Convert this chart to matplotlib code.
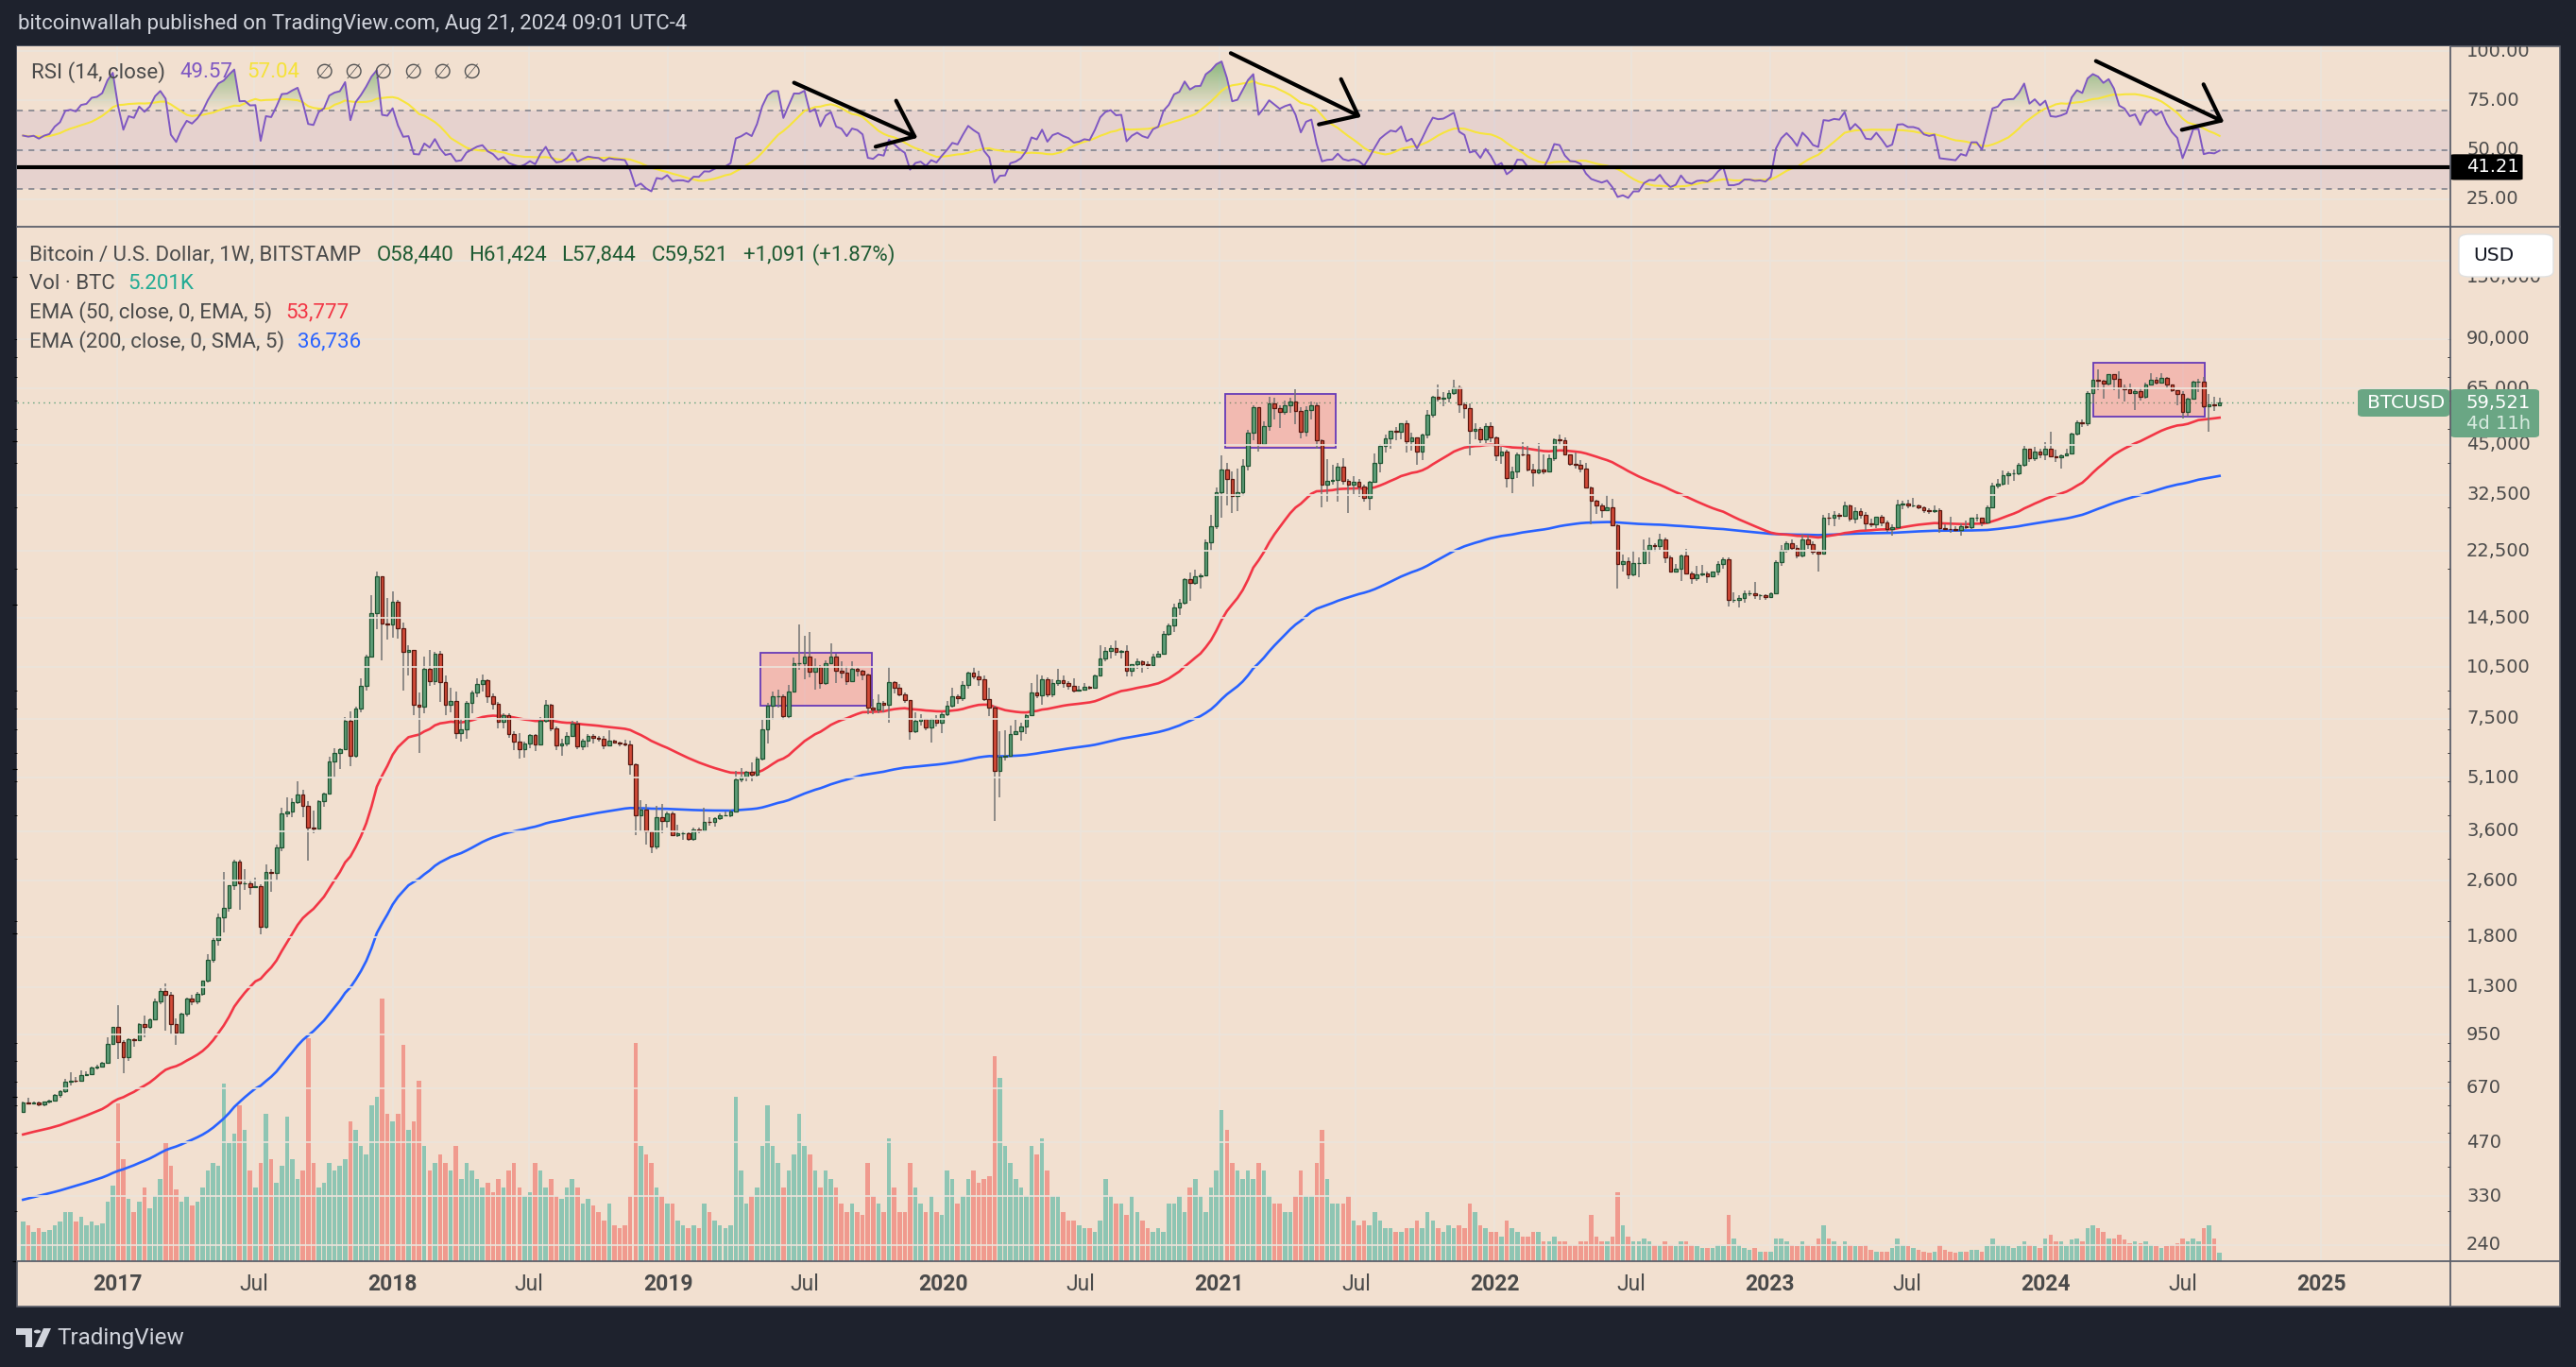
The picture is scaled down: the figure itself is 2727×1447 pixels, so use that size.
import numpy as np
import pandas as pd
import matplotlib
matplotlib.use('Agg')
import matplotlib.pyplot as plt
import matplotlib.dates as mdates
from matplotlib.patches import Rectangle, FancyBboxPatch, Polygon, Circle
from matplotlib.path import Path
from matplotlib.colors import LinearSegmentedColormap
from matplotlib.transforms import blended_transform_factory, offset_copy

# ---- weekly BTCUSD (Bitstamp), weeks starting 2016-08-29 ----
first_open = 575
last_open = 58440   # open of the running week as shown in the legend
closes = [
    610, 607, 610, 603, 612, 617, 640, 655, 700, 705, 702, 730, 735, 765, 770, 790, 892, 998,
    908, 820, 922, 915, 1020, 998, 1050, 1180, 1265, 1230, 1020, 965, 1090, 1200, 1180, 1245, 1350, 1550,
    1770, 2050, 2180, 2520, 2950, 2550, 2560, 2500, 2510, 1930, 2750, 2730, 3230, 4050, 4090, 4350, 4580, 4240,
    3690, 3660, 4370, 4610, 5680, 6000, 6150, 7390, 5880, 8040, 9300, 11300, 15000, 19100, 14000, 13880,
    16170, 13600, 11600, 11750, 8200, 8100, 10400, 9600, 11450, 9550, 8200, 8450, 6850, 7000, 8350, 8900,
    9400, 9650, 8700, 8250, 7350, 7700, 6780, 6450, 6150, 6380, 6750, 6350, 7400, 8200, 7030, 6310, 6400,
    6720, 7280, 6250, 6500, 6710, 6620, 6570, 6300, 6500, 6420, 6400, 6350, 5580, 4000, 4150, 3600, 3250,
    3950, 3850, 4050,
    3500, 3540, 3540, 3420, 3630, 3620, 3830, 3820, 3920, 4000, 4000, 4100, 5050, 5150, 5300, 5200, 5770,
    7000, 8150, 8700, 8700, 7650, 8950, 10800, 10800, 11300, 10200, 10550, 9500, 10800, 11300, 10300, 10150,
    9600, 10400, 10300, 10000, 8050, 7950, 8300, 8200, 9550, 9200, 8800, 8500, 6900, 7400, 7500, 7100, 7500,
    7300, 7750,
    8180, 8700, 8600, 9350, 10150, 9900, 9700, 8550, 8050, 5350, 5850, 5880, 6780, 6900, 7150, 7700, 8900,
    8750, 9700, 8800, 9450, 9650, 9450, 9300, 9000, 9070, 9250, 9200, 9950, 11100, 11700, 11900, 11650,
    11700, 10250, 10700, 10950, 10750, 10650, 11300, 11500, 13050, 13800, 15500, 16000, 18700, 18200, 19100,
    19200, 23800, 26500, 33000,
    38200, 36000, 32300, 33100, 39200, 48700, 57500, 45200, 51000, 59000, 57400, 55800, 58200, 59800, 56200,
    49100, 56600, 58300, 46400, 34700, 35600, 35800, 39000, 35600, 34700, 35300, 34300, 31800, 35400, 39900,
    44600, 47100, 49300, 48900, 51800, 46000, 47300, 43200, 48200, 54700, 61500, 60900, 61300, 63300, 65500,
    58600, 57300, 49400, 50100, 46700, 50800, 47300,
    41900, 43100, 36300, 37900, 42400, 42200, 38400, 37700, 38400, 37800, 41300, 46800, 46400, 42200, 39700,
    39500, 38500, 34100, 31300, 30300, 29400, 29900, 26600, 20600, 21000, 19300, 20800, 20800, 22600, 23300,
    23200, 24300, 21500, 19600, 20000, 21800, 19400, 18800, 19300, 19400, 19100, 19600, 20600, 21300, 16300,
    16300, 16500, 17100, 17100, 16800, 16850, 16600,
    17100, 20900, 22700, 23700, 22900, 21800, 24300, 23500, 22400, 22100, 28000, 27900, 28400, 28300, 30300,
    27800, 29200, 28400, 26900, 26800, 28100, 27100, 25900, 26300, 30500, 30600, 30200, 30200, 30000, 29300,
    29100, 29300, 26100, 26000, 25900, 25800, 26500, 26300, 27900, 27900, 27100, 30000, 34500, 35000, 37000,
    37300, 37400, 39500, 43800, 41300, 43000, 42200,
    43900, 41700, 41600, 42000, 42600, 48300, 52100, 51700, 63100, 68900, 68400, 67200, 71300, 69400, 65600,
    64900, 63100, 64000, 61500, 66900, 69000, 67700, 69600, 66600, 64300, 62700, 55900, 60800, 68100, 68200,
    58100, 58700, 58430, 59521,
]
highs = [
    614, 630, 612, 612, 615, 620, 643, 660, 712, 742, 722, 752, 750, 772, 780, 795, 935, 1000,
    1150, 915, 930, 928, 1025, 1075, 1055, 1200, 1290, 1330, 1260, 1060, 1100, 1210, 1230, 1255, 1355, 1610,
    1800, 2100, 2760, 2530, 2980, 2990, 2800, 2620, 2650, 2540, 2900, 2810, 3290, 4200, 4480, 4460, 4980, 4710,
    4380, 4120, 4400, 4630, 5860, 6200, 6190, 7600, 7880, 8100, 9750, 11400, 16800, 19666, 19100, 16500,
    17250, 16300, 14100, 12100, 11800, 8900, 11300, 11800, 11650, 11700, 9960, 9200, 8950, 7500, 8420, 9000,
    9750, 10000, 9700, 8850, 8400, 7800, 7760, 6900, 6850, 6450, 6800, 6800, 7590, 8500, 8250, 7150, 6600,
    6880, 7420, 7400, 6600, 6800, 6800, 6700, 6700, 6950, 6530, 6480, 6550, 6500, 5600, 4400, 4300, 3600,
    4240, 4300, 4100,
    4100, 3750, 3620, 3560, 3680, 3680, 4200, 3930, 3950, 4050, 4080, 4130, 5350, 5450, 5350, 5650, 5850,
    7450, 8350, 8950, 9100, 8800, 9350, 11200, 13880, 12900, 13200, 11100, 10650, 11000, 12300, 11450, 10950,
    10600, 10900, 10450, 10350, 10100, 8550, 8800, 8420, 10500, 9580, 9400, 8900, 8500, 7850, 7750, 7500, 7550,
    7700, 7850,
    8450, 9200, 8800, 9600, 10200, 10500, 10250, 9950, 9200, 8150, 6900, 6950, 7200, 7450, 7300, 7750, 9450,
    10050, 9950, 9850, 9700, 10400, 9980, 9600, 9750, 9320, 9470, 9300, 10000, 12100, 12000, 12100, 12480,
    11800, 12100, 10750, 11150, 11000, 10950, 11500, 11700, 13350, 14000, 15950, 16400, 18800, 19500, 19900,
    19400, 24200, 28400, 34000,
    41950, 40100, 37800, 38500, 40900, 49700, 58300, 57600, 52500, 61700, 61200, 58300, 60000, 61300, 64900,
    57500, 58000, 59600, 59500, 46600, 40900, 39500, 40000, 41300, 36100, 36600, 35900, 34700, 35500, 42600,
    45300, 48200, 49400, 50500, 52000, 52900, 48800, 47400, 48500, 56600, 62000, 67000, 63700, 64300, 69000,
    66300, 59300, 59100, 51900, 50500, 51900, 52100,
    47500, 44400, 43500, 38900, 42700, 45800, 44800, 39800, 45400, 42400, 42400, 46900, 48200, 47200, 42400,
    42900, 40800, 40000, 34300, 31500, 30600, 32400, 31700, 26800, 21900, 21500, 22500, 21600, 24300, 24600,
    23700, 25200, 24500, 21800, 20600, 21900, 22800, 19700, 20400, 20500, 19600, 19700, 21000, 21500, 21500,
    17200, 16800, 17400, 17400, 18400, 16950, 16950,
    17200, 21200, 23300, 23900, 24200, 23400, 25200, 25000, 23900, 22600, 28400, 28900, 29200, 28800, 31000,
    30500, 30000, 29800, 29000, 27700, 28200, 28400, 27400, 26800, 31400, 31200, 31500, 31800, 30400, 30100,
    29800, 30200, 29700, 26800, 28100, 26400, 27000, 27400, 28000, 28600, 28000, 30300, 35200, 35900, 38000,
    37900, 38400, 40000, 44700, 44000, 44300, 43800,
    45900, 48900, 43500, 42200, 43800, 48600, 52800, 53000, 64000, 69200, 73800, 68900, 71700, 71400, 72700,
    66900, 67200, 64700, 65500, 67700, 71900, 70000, 72000, 70200, 66900, 64500, 63800, 61400, 68400, 69400,
    70000, 62700, 61800, 61424,
]
lows = [
    570, 603, 605, 594, 596, 606, 615, 628, 650, 680, 695, 700, 725, 728, 758, 770, 788, 890,
    810, 740, 800, 880, 910, 935, 985, 1045, 1160, 975, 950, 890, 960, 1070, 1150, 1160, 1225, 1340,
    1520, 1700, 1850, 2120, 2450, 2150, 2450, 2380, 2480, 1830, 1900, 2420, 2600, 3150, 3950, 3950, 4300, 3950,
    2970, 3550, 3650, 4220, 4600, 5120, 5400, 6100, 5500, 5800, 7850, 9000, 11200, 13500, 11000, 12600,
    12750, 12700, 9000, 9950, 7700, 6000, 7800, 9300, 9350, 8400, 7700, 7850, 6600, 6450, 6600, 7800,
    8650, 8950, 8350, 7950, 7050, 7050, 6620, 6100, 5780, 5800, 6200, 6070, 6300, 7300, 6900, 6100, 5880,
    6250, 6700, 6150, 6100, 6220, 6400, 6450, 6150, 6250, 6380, 6250, 6280, 5200, 3500, 3600, 3300, 3120,
    3200, 3550, 3680,
    3480, 3460, 3400, 3380, 3380, 3550, 3600, 3730, 3700, 3860, 3960, 3950, 4100, 4950, 5000, 5000, 5150,
    5700, 6400, 7450, 8050, 7450, 7500, 8950, 10350, 9700, 9850, 9100, 9150, 9350, 10800, 9450, 9750,
    9350, 9600, 9900, 9650, 7750, 7750, 7800, 7850, 7300, 8850, 8700, 8350, 6550, 6850, 7200, 6980, 6430,
    7120, 6850,
    7650, 8050, 8250, 8450, 9150, 9700, 9300, 8450, 7650, 3850, 4500, 5700, 5850, 6750, 6500, 6800, 7650,
    8600, 8200, 8650, 8650, 9300, 9200, 9100, 8900, 8950, 9050, 9050, 9150, 9900, 10950, 11100, 11350,
    11150, 9900, 9900, 10400, 10150, 10400, 10500, 11200, 11500, 12900, 13200, 14800, 15800, 16200, 18000,
    17600, 19000, 22500, 26000,
    28000, 30300, 28800, 29200, 32300, 38000, 46500, 43000, 44900, 49300, 53300, 50300, 54800, 55500, 51500,
    47000, 47500, 53000, 43900, 30000, 31100, 34800, 31000, 34800, 28800, 32700, 32100, 31000, 29300, 35300,
    37500, 42800, 43900, 46400, 46600, 42800, 43400, 39600, 40800, 47100, 53800, 59600, 58000, 59500, 62300,
    55600, 53500, 42000, 46700, 45500, 45600, 45700,
    40600, 39700, 34000, 32900, 36200, 41700, 37900, 34300, 37200, 37200, 37600, 40500, 44900, 41900, 39200,
    38500, 37600, 33800, 26700, 28700, 28000, 29300, 26500, 17600, 19700, 18700, 19000, 18900, 20800, 20700,
    22400, 22700, 20800, 19500, 19500, 18500, 19300, 18100, 18500, 19000, 18200, 18900, 19200, 20000, 15600,
    16000, 15500, 16000, 16700, 16400, 16300, 16300,
    16500, 17100, 20400, 22300, 22600, 21400, 21500, 22800, 21900, 19600, 21900, 26600, 26500, 27600, 28200,
    27200, 26900, 27700, 25800, 26300, 26100, 26500, 25400, 24800, 26200, 29500, 29800, 29900, 29500, 28900,
    28600, 28800, 25300, 25800, 25300, 25400, 24900, 26000, 26000, 27200, 26500, 26900, 29800, 33900, 34500,
    34800, 35600, 37000, 39000, 40200, 40600, 41300,
    40800, 41500, 40300, 38500, 41800, 42500, 47700, 50600, 50900, 59000, 64500, 60800, 66500, 64500, 60700,
    59600, 62800, 56500, 60200, 60800, 66200, 66600, 67600, 65100, 63400, 58400, 53500, 54300, 60800, 63500,
    57200, 49000, 56100, 57844,
]
# weekly volume, thousand BTC
volumes = [
    24, 22, 18, 20, 18, 19, 22, 24, 30, 30, 24, 27, 22, 24, 22, 23, 36, 46,
    96, 62, 38, 30, 36, 45, 32, 40, 50, 72, 58, 44, 36, 40, 34, 36, 45, 55, 60, 58,
    108, 72, 78, 95, 80, 55, 45, 60, 90, 62, 48, 58, 88, 62, 50, 55, 136, 60, 45, 48,
    60, 55, 58, 62, 85, 80, 70, 65, 95, 100, 160, 90,
    85, 90, 132, 80, 85, 110, 70, 55, 60, 65, 60, 55, 70, 50, 60, 55, 50, 45, 48, 42,
    50, 45, 55, 60, 45, 40, 42, 60, 55, 45, 50, 40, 38, 45, 50, 45, 35, 38, 34, 30,
    25, 35, 22, 20, 22, 40, 133, 70, 65, 60, 45, 40, 35,
    35, 25, 22, 20, 22, 20, 35, 30, 25, 22, 20, 22, 100, 55, 35, 40, 45, 70, 95, 70,
    60, 45, 55, 65, 90, 70, 65, 55, 45, 55, 50, 45, 35, 30, 35, 30, 28, 60, 40, 35,
    30, 75, 45, 30, 30, 60, 45, 35, 30, 40, 30, 28,
    55, 50, 35, 40, 50, 55, 48, 50, 52, 125, 112, 70, 60, 50, 45, 40, 70, 65, 75, 55,
    40, 40, 30, 25, 25, 22, 20, 20, 18, 25, 50, 40, 35, 35, 28, 40, 30, 25, 20, 18,
    20, 18, 35, 35, 40, 30, 45, 50, 40, 30, 45, 55,
    92, 80, 60, 55, 50, 55, 50, 60, 55, 40, 35, 35, 30, 30, 40, 55, 40, 40, 60, 80,
    50, 35, 35, 35, 40, 25, 22, 25, 22, 30, 25, 20, 20, 18, 18, 20, 20, 25, 20, 30,
    25, 20, 18, 22, 20, 22, 20, 35, 30, 22, 20, 18,
    18, 15, 25, 20, 18, 15, 15, 18, 18, 12, 12, 15, 12, 12, 10, 10, 12, 12, 28, 15,
    12, 12, 15, 42, 22, 15, 12, 12, 14, 12, 10, 10, 12, 10, 9, 12, 12, 10, 9, 8,
    8, 8, 10, 9, 28, 14, 10, 8, 7, 8, 6, 6,
    6, 14, 14, 12, 10, 9, 12, 10, 9, 14, 22, 14, 12, 9, 12, 10, 9, 9, 10, 7,
    6, 6, 6, 8, 14, 10, 9, 8, 7, 6, 5, 6, 10, 7, 6, 5, 6, 6, 7, 7,
    6, 9, 14, 10, 10, 9, 8, 9, 12, 10, 9, 8,
    14, 16, 12, 12, 9, 13, 14, 12, 20, 22, 20, 18, 14, 14, 16, 13, 11, 12, 11, 12,
    10, 9, 8, 9, 10, 11, 14, 12, 14, 12, 20, 22, 14, 5.201,
]

# indicator seeds (values at the left edge)
ema50_seed = 490
ema200_seed = 320
rsi_gain_seed, rsi_loss_seed = 12.0, 11.0

price_ticks = [240, 330, 470, 670, 950, 1300, 1800, 2600, 3600, 5100, 7500, 10500, 14500,
               22500, 32500, 45000, 65000, 90000, 150000]
rsi_ticks = [25, 50, 75, 100]

# annotation boxes (start, end, low, high) and RSI arrows (start date, rsi, end date, rsi)
boxes = [('2019-05-03', '2019-09-28', 8160, 11520),
         ('2021-01-09', '2021-06-04', 44150, 62970),
         ('2024-03-05', '2024-07-30', 54170, 77200)]
arrows = [('2019-06-14', 84.5, '2019-12-01', 55.5),
          ('2021-01-13', 99.5, '2021-07-11', 66.0),
          ('2024-03-05', 95.5, '2024-08-28', 63.5)]
rsi_level = 41.21

# ---------------- computations ----------------
closes = np.array(closes, float)
highs = np.array(highs, float)
lows = np.array(lows, float)
volumes = np.array(volumes, float)
opens = np.r_[first_open, closes[:-1]]
opens[-1] = last_open
dates = pd.date_range('2016-08-29', periods=len(closes), freq='W-MON')
x = mdates.date2num(dates)


def ema(vals, n, seed):
    a = 2.0 / (n + 1)
    out, e = [], seed
    for v in vals:
        e = e + a * (v - e)
        out.append(e)
    return np.array(out)


def rsi_calc(vals, start, n, g, l):
    out, prev = [], start
    for v in vals:
        d = v - prev
        g = (g * (n - 1) + max(d, 0)) / n
        l = (l * (n - 1) + max(-d, 0)) / n
        out.append(100 - 100 / (1 + g / l))
        prev = v
    return np.array(out)


ema50 = ema(closes, 50, ema50_seed)
ema200 = ema(closes, 200, ema200_seed)
rsi = rsi_calc(closes, first_open, 14, rsi_gain_seed, rsi_loss_seed)
rsi_ma = pd.Series(rsi).rolling(14, min_periods=1).mean().values

# ---------------- layout ----------------
W, H = 2727, 1447
BG = '#f2e0d0'
DARK = '#1e222d'
FRAME = '#5d606b'
GRID = '#ebe4dc'
TXT = '#4a4a4a'
FONT = ['Roboto', 'DejaVu Sans']

fig = plt.figure(figsize=(W / 100, H / 100), dpi=100)
fig.patch.set_facecolor(DARK)


def fx(px):
    return px / W


def fy(py):
    return 1 - py / H


L, R, RA = 18, 2594, 2710
T_RSI, B_RSI = 49, 239
T_MAIN, B_MAIN = 241, 1335
B_TIME = 1383

fig.add_artist(Rectangle((fx(L), fy(B_TIME)), fx(RA) - fx(L), fy(T_RSI) - fy(B_TIME),
                         transform=fig.transFigure, fc=BG, ec=FRAME, lw=1.2, zorder=0))

ax_r = fig.add_axes([fx(L), fy(B_RSI), fx(R) - fx(L), fy(T_RSI) - fy(B_RSI)])
ax_v = fig.add_axes([fx(L), fy(B_MAIN), fx(R) - fx(L), fy(T_MAIN) - fy(B_MAIN)], sharex=ax_r)
ax = fig.add_axes([fx(L), fy(B_MAIN), fx(R) - fx(L), fy(T_MAIN) - fy(B_MAIN)], sharex=ax_r)
ax_rl = fig.add_axes([fx(R), fy(B_RSI), fx(RA) - fx(R), fy(T_RSI) - fy(B_RSI)])
ax_pl = fig.add_axes([fx(R), fy(B_MAIN), fx(RA) - fx(R), fy(T_MAIN) - fy(B_MAIN)])

xmin = mdates.date2num(pd.Timestamp('2017-01-02')) - 134
xmax = mdates.date2num(pd.Timestamp('2017-01-02')) + 3092
for a in (ax_r, ax_v, ax, ax_rl, ax_pl):
    a.set_facecolor('none')
    for s in a.spines.values():
        s.set_visible(False)
    a.tick_params(left=False, bottom=False, labelleft=False, labelbottom=False)
ax_v.set_facecolor(BG)
ax_r.set_facecolor(BG)
ax_r.set_xlim(xmin, xmax)

ax.set_yscale('log')
ax.set_ylim(216, 186300)
ax_pl.set_yscale('log')
ax_pl.set_ylim(216, 186300)
ax_pl.set_xlim(0, 1)
ax_v.set_ylim(0, 630)
ax_r.set_ylim(11.5, 102.4)
ax_rl.set_ylim(11.5, 102.4)
ax_rl.set_xlim(0, 1)

# time ticks / grid
tick_dates, tick_labels = [], []
for y in range(2017, 2026):
    tick_dates.append(pd.Timestamp(f'{y}-01-01'))
    tick_labels.append(str(y))
    if y < 2025:
        tick_dates.append(pd.Timestamp(f'{y}-07-01'))
        tick_labels.append('Jul')
tx = mdates.date2num(tick_dates)
for a in (ax_r, ax_v):
    for t in tx:
        a.axvline(t, color=GRID, lw=1.2, zorder=0)
tr_time = blended_transform_factory(ax.transData, fig.transFigure)
for t, lab in zip(tx, tick_labels):
    ax.text(t, fy(1360), lab, transform=tr_time, ha='center', va='center',
            fontsize=16.5, color=TXT, family=FONT,
            fontweight='bold' if lab != 'Jul' else 'normal')

# ---------------- RSI pane ----------------
for v in rsi_ticks:
    ax_r.axhline(v, color=GRID, lw=1.2, zorder=0)
ax_r.axhspan(30, 70, color='#7e57c2', alpha=0.1, lw=0, zorder=1)
for v in (70, 50, 30):
    ax_r.axhline(v, color='#787b86', lw=1.1, ls=(0, (4, 4)), zorder=2)


def grad_fill(a, yv, base, top, rgb, above=True):
    where = yv >= base if above else yv <= base
    pc = a.fill_between(x, yv, base, where=where, interpolate=True, color='none', lw=0)
    paths = pc.get_paths()
    if not paths:
        return
    clip = Path.make_compound_path(*paths)
    cm = LinearSegmentedColormap.from_list('g', [(*rgb, 0.0), (*rgb, 0.75)])
    grad = np.linspace(0, 1, 256).reshape(-1, 1)
    if not above:
        grad = grad[::-1]
    lo, hi = (base, top) if above else (top, base)
    im = a.imshow(grad, cmap=cm, extent=[xmin, xmax, lo, hi], origin='lower',
                  aspect='auto', zorder=2, interpolation='bilinear')
    im.set_clip_path(clip, transform=a.transData)


grad_fill(ax_r, rsi, 70, 100, (0.30, 0.62, 0.30), above=True)
grad_fill(ax_r, rsi, 30, 0, (0.90, 0.30, 0.30), above=False)
ax_r.set_ylim(11.5, 102.4)
ax_r.set_xlim(xmin, xmax)
ax_r.plot(x, rsi_ma, color='#f7e43c', lw=1.5, zorder=3)
ax_r.plot(x, rsi, color='#7e57c2', lw=1.4, zorder=4)
ax_r.axhline(rsi_level, color='black', lw=3.0, zorder=5)
for d0, r0, d1, r1 in arrows:
    ax_r.annotate('', xy=(mdates.date2num(pd.Timestamp(d1)), r1),
                  xytext=(mdates.date2num(pd.Timestamp(d0)), r0),
                  arrowprops=dict(arrowstyle='->,head_length=0.75,head_width=0.6',
                                  color='black', lw=3.0, mutation_scale=32),
                  zorder=6)

for v in rsi_ticks:
    ax_rl.text(0.147, v, f'{v:.2f}', fontsize=14, color=TXT, va='center', ha='left',
               family='DejaVu Sans', clip_on=True)
ax_rl.add_patch(FancyBboxPatch((0.0, rsi_level - 6.5), 0.66, 13.0,
                               boxstyle='round,pad=0,rounding_size=0.04',
                               fc='black', ec='none', zorder=5, mutation_aspect=12))
ax_rl.text(0.147, rsi_level, f'{rsi_level:.2f}', fontsize=14, color='white', va='center',
           ha='left', family='DejaVu Sans', zorder=6)

# ---------------- main pane ----------------
ax_pg = ax_v.twinx()
ax_pg.set_yscale('log')
ax_pg.set_ylim(216, 186300)
ax_pg.axis('off')
for p in price_ticks:
    ax_pg.axhline(p, color=GRID, lw=1.2, zorder=0)
vcol = np.where(closes >= opens, '#8ec5b3', '#f09a8e')
ax_v.bar(x, volumes, width=5.7, color=vcol, lw=0, zorder=2)

ax.plot(x, ema200, color='#2962ff', lw=1.9, zorder=2)
ax.plot(x, ema50, color='#f23645', lw=1.9, zorder=2)
for d0, d1, lo, hi in boxes:
    x0 = mdates.date2num(pd.Timestamp(d0))
    x1 = mdates.date2num(pd.Timestamp(d1))
    ax.add_patch(Rectangle((x0, lo), x1 - x0, hi - lo, fc='#f23645', alpha=0.22,
                           ec='none', zorder=2.5))
    ax.add_patch(Rectangle((x0, lo), x1 - x0, hi - lo, fc='none', ec='#673ab7',
                           lw=1.3, zorder=2.6))

up = closes >= opens
blo = np.minimum(opens, closes)
bhi = np.maximum(opens, closes)
ax.vlines(x, np.minimum(lows, blo), np.maximum(highs, bhi), color='#737373', lw=1.1, zorder=3)
ax.bar(x[up], (bhi - blo)[up], bottom=blo[up], width=4.6, color='#5f9e78',
       edgecolor='#1f5532', lw=0.9, zorder=4)
ax.bar(x[~up], (bhi - blo)[~up], bottom=blo[~up], width=4.6, color='#d24a38',
       edgecolor='#5a170f', lw=0.9, zorder=4)
last = closes[-1]
ax.axhline(last, color='#5b9f78', lw=1.0, ls=(0, (1, 3)), zorder=1.5)
ax.set_xlim(xmin, xmax)

for p in price_ticks:
    tr = ax_pl.transData
    if p == price_ticks[-1]:
        # top label sits lower, half hidden under the currency button
        tr = offset_copy(ax_pl.transData, fig=fig, y=-17, units='dots')
    ax_pl.text(0.147, p, f'{p:,}', fontsize=14, color=TXT, va='center', ha='left',
               family='DejaVu Sans', clip_on=True, transform=tr)

# USD button and price labels (figure pixels)
fig.add_artist(FancyBboxPatch((fx(2603), fy(293)), fx(2703) - fx(2603), fy(248) - fy(293),
                              boxstyle='round,pad=0,rounding_size=0.004', transform=fig.transFigure,
                              fc='white', ec='#e0e0e0', lw=1, zorder=10))
fig.text(fx(2618), fy(271), 'USD', fontsize=14.5, color='#131722', va='center', ha='left',
         family='DejaVu Sans', zorder=11)
fig.add_artist(FancyBboxPatch((fx(2496), fy(441)), fx(2593) - fx(2496), fy(412) - fy(441),
                              boxstyle='round,pad=0,rounding_size=0.002', transform=fig.transFigure,
                              fc='#6aa684', ec='none', zorder=10))
fig.text(fx(2506), fy(427), 'BTCUSD', fontsize=14.5, color='white', va='center', ha='left',
         family='DejaVu Sans', zorder=11)
fig.add_artist(FancyBboxPatch((fx(2594), fy(463)), fx(2688) - fx(2594), fy(412) - fy(463),
                              boxstyle='round,pad=0,rounding_size=0.002', transform=fig.transFigure,
                              fc='#6aa684', ec='none', zorder=10))
fig.text(fx(2611), fy(426), f'{last:,.0f}', fontsize=14, color='white', va='center',
         ha='left', family='DejaVu Sans', zorder=11)
fig.text(fx(2611), fy(449), '4d 11h', fontsize=14, color='#d8ebe0', va='center',
         ha='left', family='DejaVu Sans', zorder=11)

# separators
for (x0, y0, x1, y1) in [(R, T_RSI, R, B_TIME), (L, 240, RA, 240), (L, B_MAIN, RA, B_MAIN)]:
    fig.add_artist(plt.Line2D([fx(x0), fx(x1)], [fy(y0), fy(y1)], transform=fig.transFigure,
                              color=FRAME, lw=1.3, zorder=12))

# ---------------- legends / header ----------------
renderer = fig.canvas.get_renderer()


def chain(px, py, parts, size, gap=14):
    for s, c, *g in parts:
        t = fig.text(fx(px), fy(py), s, color=c, fontsize=size, va='center', ha='left',
                     family=FONT, zorder=15)
        px = t.get_window_extent(renderer).x1 + (g[0] if g else gap)


chain(19, 26, [('bitcoinwallah published on TradingView.com, Aug 21, 2024 09:01 UTC-4', '#d1d4dc')], 16)
sym = '#555555'
chain(33, 77, [('RSI (14, close)', TXT), (f'{rsi[-1]:.2f}', '#7e57c2'), (f'{rsi_ma[-1]:.2f}', '#f5e23a', 16),
               ('∅', sym, 12), ('∅', sym, 12), ('∅', sym, 12), ('∅', sym, 12),
               ('∅', sym, 12), ('∅', sym, 12)], 16, gap=15)
green = '#1e5a32'
prev_close = closes[-2]
chain(31, 270, [('Bitcoin / U.S. Dollar, 1W, BITSTAMP', TXT), (f'O{opens[-1]:,.0f}', green),
                (f'H{highs[-1]:,.0f}', green), (f'L{lows[-1]:,.0f}', green),
                (f'C{closes[-1]:,.0f}', green),
                (f'{closes[-1] - prev_close:+,.0f} ({(closes[-1] / prev_close - 1) * 100:+.2f}%)', green)],
      16, gap=16)
chain(31, 301, [('Vol · BTC', TXT), (f'{volumes[-1]:.3f}K', '#22ab94')], 16)
chain(31, 331, [('EMA (50, close, 0, EMA, 5)', TXT), (f'{ema50[-1]:,.0f}', '#f23645')], 16)
chain(31, 362, [('EMA (200, close, 0, SMA, 5)', TXT), (f'{ema200[-1]:,.0f}', '#2962ff')], 16)

# TradingView logo
logo = '#d1d4dc'
fig.add_artist(Polygon([(fx(17), fy(1406)), (fx(34), fy(1406)), (fx(34), fy(1426)), (fx(27), fy(1426)),
                        (fx(27), fy(1413)), (fx(17), fy(1413))], closed=True, transform=fig.transFigure,
                       fc=logo, ec='none'))
fig.add_artist(Circle((fx(39.5), fy(1409.5)), 3.6 / W, transform=fig.transFigure, fc=logo, ec='none'))
fig.add_artist(Polygon([(fx(37), fy(1426)), (fx(46), fy(1406)), (fx(54), fy(1406)), (fx(45), fy(1426))],
                       closed=True, transform=fig.transFigure, fc=logo, ec='none'))
fig.text(fx(60), fy(1416), 'TradingView', fontsize=17.5, color=logo, va='center', ha='left', family=FONT)

fig.savefig('out.png', dpi=100, facecolor=DARK)
